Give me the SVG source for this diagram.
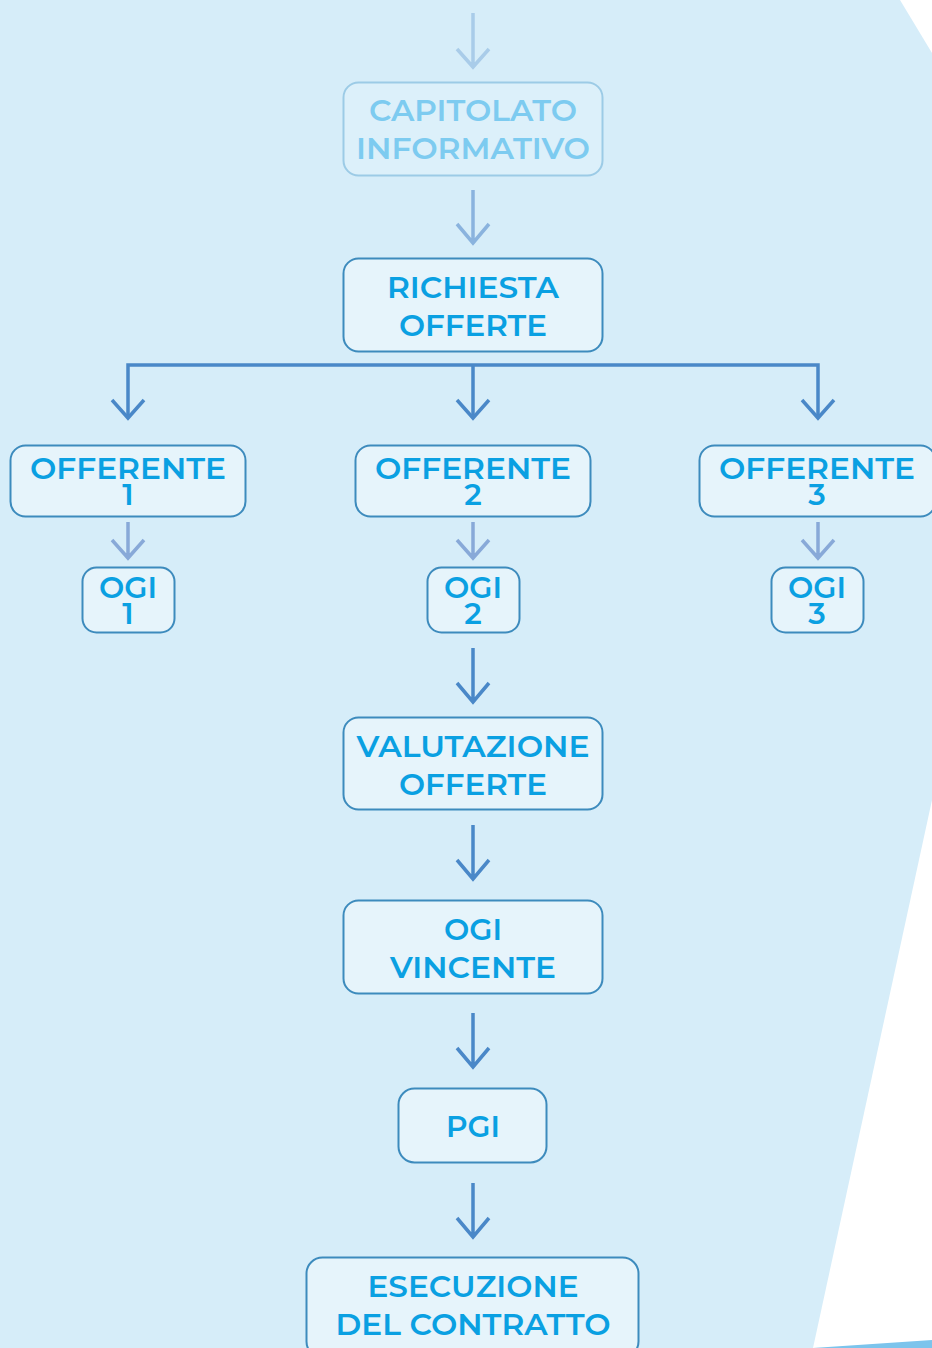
<svg xmlns="http://www.w3.org/2000/svg" width="932" height="1348" viewBox="0 0 932 1348">
<style>
.bg{fill:#d6edf9}
.node rect{fill:#e6f4fb;stroke:#3d8bbd;stroke-width:2}
.node text{font-family:Montserrat,Inter,"Noto Sans",sans-serif;font-weight:600;font-size:30px;fill:#0aa0e2;text-anchor:middle}
.faded rect{fill:#dcf0fa;stroke:#9ccbe6}
.faded text{fill:#7dcbf0}
.conn path{fill:none;stroke-width:3.5;stroke-linecap:butt;stroke-linejoin:miter}
.main{stroke:#4a88c8}
.light{stroke:#88a9d8}
</style>
<polygon class="bg" points="0,0 900,0 932,53 932,800 813,1348 0,1348"/>
<polygon points="813,1348 932,1340 932,1348" fill="#7cc4ec"/>
<g id="connectors" class="conn">
  <path stroke="#a9cce9" d="M473,13V67M457,49L473,67L489,49"/>
  <path stroke="#8ab3de" d="M473,190V243M457,224L473,243L489,224"/>
  <path class="main" stroke="#5b97d0" d="M128,418V365H818V418M473,365V418"/>
  <path class="main" stroke="#5b97d0" d="M112,400L128,418L144,400M457,400L473,418L489,400M802,400L818,418L834,400"/>
  <path class="light" d="M128,522V558M112,540L128,558L144,540M473,522V558M457,540L473,558L489,540M818,522V558M802,540L818,558L834,540"/>
  <path class="main" d="M473,648V702M457,683L473,702L489,683"/>
  <path class="main" d="M473,825V879M457,860L473,879L489,860"/>
  <path class="main" d="M473,1013V1067M457,1048L473,1067L489,1048"/>
  <path class="main" d="M473,1183V1237M457,1218L473,1237L489,1218"/>
</g>
<g id="capitolato" class="node faded">
  <rect x="343.5" y="82.5" width="259" height="93" rx="15"/>
  <text x="473" y="121" textLength="208" lengthAdjust="spacingAndGlyphs">CAPITOLATO</text>
  <text x="473" y="159" textLength="234" lengthAdjust="spacingAndGlyphs">INFORMATIVO</text>
</g>
<g id="richiesta" class="node">
  <rect x="343.5" y="258.5" width="259" height="93" rx="15"/>
  <text x="473" y="298" textLength="172" lengthAdjust="spacingAndGlyphs">RICHIESTA</text>
  <text x="473" y="336" textLength="148" lengthAdjust="spacingAndGlyphs">OFFERTE</text>
</g>
<g id="offerente1" class="node">
  <rect x="10.5" y="445.5" width="235" height="71" rx="15"/>
  <text x="128" y="479" textLength="196" lengthAdjust="spacingAndGlyphs">OFFERENTE</text>
  <text x="128" y="505">1</text>
</g>
<g id="offerente2" class="node">
  <rect x="355.5" y="445.5" width="235" height="71" rx="15"/>
  <text x="473" y="479" textLength="196" lengthAdjust="spacingAndGlyphs">OFFERENTE</text>
  <text x="473" y="505">2</text>
</g>
<g id="offerente3" class="node">
  <rect x="699.5" y="445.5" width="236" height="71" rx="15"/>
  <text x="817" y="479" textLength="196" lengthAdjust="spacingAndGlyphs">OFFERENTE</text>
  <text x="817" y="505">3</text>
</g>
<g id="ogi1" class="node">
  <rect x="82.5" y="567.5" width="92" height="65" rx="14"/>
  <text x="128" y="598" textLength="58" lengthAdjust="spacingAndGlyphs">OGI</text>
  <text x="128" y="624">1</text>
</g>
<g id="ogi2" class="node">
  <rect x="427.5" y="567.5" width="92" height="65" rx="14"/>
  <text x="473" y="598" textLength="58" lengthAdjust="spacingAndGlyphs">OGI</text>
  <text x="473" y="624">2</text>
</g>
<g id="ogi3" class="node">
  <rect x="771.5" y="567.5" width="92" height="65" rx="14"/>
  <text x="817" y="598" textLength="58" lengthAdjust="spacingAndGlyphs">OGI</text>
  <text x="817" y="624">3</text>
</g>
<g id="valutazione" class="node">
  <rect x="343.5" y="717.5" width="259" height="92" rx="15"/>
  <text x="473" y="757" textLength="233" lengthAdjust="spacingAndGlyphs">VALUTAZIONE</text>
  <text x="473" y="795" textLength="148" lengthAdjust="spacingAndGlyphs">OFFERTE</text>
</g>
<g id="ogivincente" class="node">
  <rect x="343.5" y="900.5" width="259" height="93" rx="15"/>
  <text x="473" y="940" textLength="58" lengthAdjust="spacingAndGlyphs">OGI</text>
  <text x="473" y="978" textLength="166" lengthAdjust="spacingAndGlyphs">VINCENTE</text>
</g>
<g id="pgi" class="node">
  <rect x="398.5" y="1088.5" width="148" height="74" rx="16"/>
  <text x="473" y="1137" textLength="54" lengthAdjust="spacingAndGlyphs">PGI</text>
</g>
<g id="esecuzione" class="node">
  <rect x="306.5" y="1257.5" width="332" height="100" rx="16"/>
  <text x="473" y="1297" textLength="211" lengthAdjust="spacingAndGlyphs">ESECUZIONE</text>
  <text x="473" y="1335" textLength="275" lengthAdjust="spacingAndGlyphs">DEL CONTRATTO</text>
</g>
</svg>
